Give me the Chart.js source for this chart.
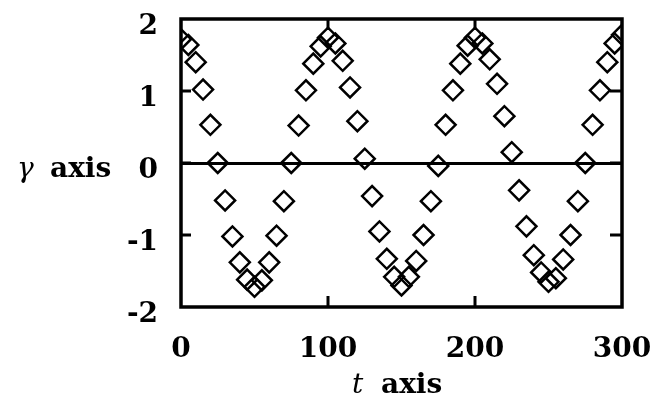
<!DOCTYPE html>
<html>
<head>
<meta charset="utf-8">
<style>
  html, body { margin: 0; padding: 0; background: #fff; }
  #wrap { width: 661px; height: 400px; }
</style>
</head>
<body>
<div id="wrap"><canvas id="myChart" width="661" height="400"></canvas></div>
<script src="https://cdn.jsdelivr.net/npm/chart.js@4.4.1/dist/chart.umd.min.js"></script>
<script>
// values
const tValues = [
  0, 5, 10, 15, 20, 25, 30, 35, 40, 45, 50, 55, 60, 65, 70, 75, 80, 85, 90, 95,
  100, 105, 110, 115, 120, 125, 130, 135, 140, 145, 150, 155, 160, 165, 170, 175, 180, 185, 190, 195,
  200, 205, 210, 215, 220, 225, 230, 235, 240, 245, 250, 255, 260, 265, 270, 275, 280, 285, 290, 295,
  300
];
const gammaValues = [
  1.72, 1.64, 1.40, 1.02, 0.53, 0.00, -0.52, -1.02, -1.38, -1.62, -1.72, -1.63, -1.38, -1.01, -0.53, 0.00, 0.52, 1.01, 1.38, 1.62,
  1.74, 1.66, 1.42, 1.05, 0.58, 0.06, -0.46, -0.95, -1.33, -1.58, -1.70, -1.58, -1.36, -1.00, -0.53, -0.04, 0.53, 1.01, 1.38, 1.63,
  1.74, 1.66, 1.44, 1.10, 0.65, 0.15, -0.38, -0.88, -1.28, -1.52, -1.65, -1.60, -1.34, -1.00, -0.53, 0.00, 0.53, 1.01, 1.40, 1.66,
  1.78
];
const xTicks = [0, 100, 200, 300];
const yTicks = [-2, -1, 0, 1, 2];
const xTitle = ['t', 'axis'];
const yTitle = ['γ', 'axis'];

const points = tValues.map((t, i) => ({ x: t, y: gammaValues[i] }));
const serif = "'DejaVu Serif', 'Liberation Serif', serif";

// box round the plot, inward tick marks and the two axis titles
const frame = {
  id: 'frame',
  afterDraw(chart) {
    const { ctx, chartArea: a, scales } = chart;
    ctx.save();
    ctx.strokeStyle = '#000';
    ctx.lineWidth = 3.5;
    ctx.strokeRect(a.left, a.top, a.right - a.left, a.bottom - a.top);

    ctx.lineWidth = 3;
    ctx.beginPath();
    xTicks.slice(1, -1).forEach((v) => {
      const px = scales.x.getPixelForValue(v);
      ctx.moveTo(px, a.bottom); ctx.lineTo(px, a.bottom - 11);
      ctx.moveTo(px, a.top); ctx.lineTo(px, a.top + 11);
    });
    yTicks.slice(1, -1).forEach((v) => {
      const py = scales.y.getPixelForValue(v);
      ctx.moveTo(a.left, py); ctx.lineTo(a.left + 10, py);
      ctx.moveTo(a.right, py); ctx.lineTo(a.right - 12, py);
    });
    ctx.stroke();

    ctx.fillStyle = '#000';
    ctx.textBaseline = 'alphabetic';
    ctx.textAlign = 'left';
    ctx.font = 'italic 28px ' + serif;
    ctx.fillText(yTitle[0], 17, 177);
    ctx.fillText(xTitle[0], 352, 393);
    ctx.font = 'bold 28px ' + serif;
    ctx.fillText(yTitle[1], 50, 177);
    ctx.fillText(xTitle[1], 381, 393);
    ctx.restore();
  },
};

const ctx = document.getElementById('myChart');

new Chart(ctx, {
  type: 'scatter',
  data: {
    datasets: [
      {
        data: points,
        pointStyle: 'rectRot',
        pointRadius: 10,
        borderColor: '#000',
        borderWidth: 2.5,
        backgroundColor: 'rgba(0,0,0,0)',
      },
    ],
  },
  options: {
    responsive: false,
    animation: false,
    devicePixelRatio: 1,
    layout: { padding: { top: 19, right: 39, left: 0, bottom: 0 } },
    plugins: { legend: { display: false }, tooltip: { enabled: false } },
    scales: {
      x: {
        type: 'linear',
        min: 0,
        max: 300,
        afterFit: (s) => { s.height = 93; s.paddingLeft = 0; s.paddingRight = 0; },
        afterBuildTicks: (s) => { s.ticks = xTicks.map((v) => ({ value: v })); },
        border: { display: false },
        grid: { display: false, drawTicks: false },
        ticks: { color: '#000', padding: 26, font: { family: serif, size: 28, weight: 'bold' } },
      },
      y: {
        min: -2,
        max: 2,
        afterFit: (s) => { s.width = 181; s.paddingTop = 0; s.paddingBottom = 0; },
        afterBuildTicks: (s) => { s.ticks = yTicks.map((v) => ({ value: v })); },
        border: { display: false },
        grid: {
          drawTicks: false,
          lineWidth: 3,
          color: (c) => (c.tick && c.tick.value === 0 ? '#000' : 'rgba(0,0,0,0)'),
        },
        ticks: { color: '#000', padding: 23, labelOffset: 8, font: { family: serif, size: 28, weight: 'bold' } },
      },
    },
  },
  plugins: [frame],
});
</script>
</body>
</html>
